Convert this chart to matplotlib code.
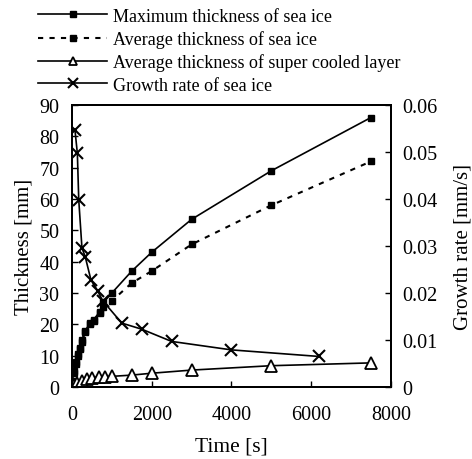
import matplotlib
matplotlib.use("Agg")
from matplotlib import pyplot as plt

plt.rcParams['font.family'] = ['Liberation Serif', 'DejaVu Serif']

# Thickness of sea ice [mm] vs time [s]
time_ice = [0, 50, 100, 150, 200, 250, 330, 460, 540, 700, 790, 1000, 1500, 2000, 3000, 5000, 7500]
max_thickness = [2, 5, 8, 10.5, 12.5, 15, 18, 20.5, 21.5, 24, 27, 30, 37, 43, 53.5, 69, 86]
avg_thickness = [1.5, 4.5, 7.5, 10, 12, 14.5, 17.5, 20, 21, 23.5, 25.5, 27.5, 33.2, 37, 45.5, 58, 72]

# Super cooled layer thickness [mm]
time_layer = [0, 60, 125, 250, 375, 500, 667, 833, 1000, 1500, 2000, 3000, 5000, 7500]
layer_thickness = [0, 0.5, 1.2, 2, 2.6, 3, 3.2, 3.3, 3.4, 3.8, 4.4, 5.4, 6.8, 7.7]

# Growth rate [mm/s]
time_rate = [75, 135, 170, 250, 333, 475, 642, 767, 1250, 1750, 2500, 4000, 6200]
growth_rate = [0.0547, 0.0497, 0.0398, 0.0296, 0.0277, 0.0228, 0.0205, 0.0184, 0.0136, 0.0123, 0.0097, 0.0079, 0.0065]

fig = plt.figure(figsize=(4.72, 4.6), dpi=100)
ax = fig.add_axes([0.1525, 0.1565, 0.6755, 0.613])
ax2 = ax.twinx()

l1, = ax.plot(time_ice, max_thickness, color='black', lw=1.2, marker='s', ms=5,
              label='Maximum thickness of sea ice')
l2, = ax.plot(time_ice, avg_thickness, color='black', lw=1.5, ls=(0, (2.5, 3)), marker='s', ms=5,
              label='Average thickness of sea ice')
l3, = ax.plot(time_layer, layer_thickness, color='black', lw=1.2, marker='^', ms=8,
              mfc='white', mew=1.3, label='Average thickness of super cooled layer')
l4, = ax2.plot(time_rate, growth_rate, color='black', lw=1.2, marker='x', ms=9,
               mew=1.5, label='Growth rate of sea ice')

ax.set_xlim(0, 8000)
ax.set_ylim(0, 90)
ax2.set_ylim(0, 0.06)
ax.set_xticks([0, 2000, 4000, 6000, 8000])
ax.set_yticks(range(0, 91, 10))
ax2.set_yticks([0, 0.01, 0.02, 0.03, 0.04, 0.05, 0.06])
ax2.set_yticklabels(['0', '0.01', '0.02', '0.03', '0.04', '0.05', '0.06'])

for a in (ax, ax2):
    a.tick_params(direction='in', labelsize=14.5, length=4, width=1)
    for s in a.spines.values():
        s.set_linewidth(1.4)
ax.tick_params(axis='x', pad=13)
ax.tick_params(axis='y', pad=9)
ax2.tick_params(axis='y', pad=8)

ax.set_xlabel('Time [s]', fontsize=15.5, labelpad=9)
ax.set_ylabel('Thickness [mm]', fontsize=15, labelpad=4)
ax2.set_ylabel('Growth rate [mm/s]', fontsize=15, labelpad=12, rotation=90)

fig.legend(handles=[l1, l2, l3, l4], loc='upper left', bbox_to_anchor=(0.0657, 0.997),
           frameon=False, fontsize=13, handlelength=3.8, handletextpad=0.33,
           labelspacing=0.3, markerscale=0.8, borderaxespad=0)

fig.savefig('out.png', dpi=100)
